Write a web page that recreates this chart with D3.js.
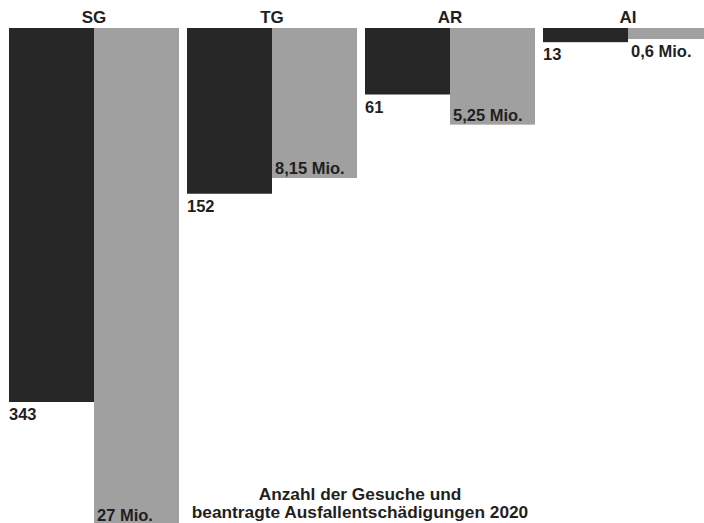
<!DOCTYPE html>
<html>
<head>
<meta charset="utf-8">
<script src="https://cdn.jsdelivr.net/npm/d3@7"></script>
<style>
  html, body { margin: 0; padding: 0; background: #fff; }
  svg { display: block; font-family: "Liberation Sans", Arial, sans-serif; }
</style>
</head>
<body>
<div id="chart"></div>
<script>
// Data
var cantons = ["SG", "TG", "AR", "AI"];
var gesuche = [343, 152, 61, 13];          // Anzahl der Gesuche
var millionen = [27, 8.15, 5.25, 0.6];     // beantragte Ausfallentschädigungen (Mio.)
var millionenLabels = ["27 Mio.", "8,15 Mio.", "5,25 Mio.", "0,6 Mio."];
var titleLines = ["Anzahl der Gesuche und", "beantragte Ausfallentschädigungen 2020"];

var width = 704, height = 523;
var barTop = 28;

var svg = d3.select("#chart").append("svg")
    .attr("width", width)
    .attr("height", height);

// group scale, then one band per series inside a group
var x = d3.scaleBand()
    .domain(cantons)
    .range([9, 9 + 178 * cantons.length - 8])
    .paddingInner(8 / 178)
    .paddingOuter(0);

var xInner = d3.scaleBand()
    .domain(["count", "amount"])
    .range([0, x.bandwidth()]);

// bars hang from the top line
var yCount = d3.scaleLinear().domain([0, 343]).range([0, 374]);
var yAmount = d3.scaleLinear().domain([0, 27]).range([0, 497]);

var dark = "#272727", grey = "#a0a0a0", ink = "#1f1f1f";

var rows = cantons.map(function (c, i) {
    return { canton: c, count: gesuche[i], amount: millionen[i], label: millionenLabels[i] };
});

var g = svg.selectAll("g.group")
    .data(rows)
    .enter()
    .append("g")
    .attr("class", "group")
    .attr("transform", function (d) { return "translate(" + x(d.canton) + ",0)"; });

// canton titles
g.append("text")
    .attr("x", x.bandwidth() / 2)
    .attr("y", 23)
    .attr("text-anchor", "middle")
    .style("font-size", "17px")
    .style("font-weight", "bold")
    .style("fill", ink)
    .text(function (d) { return d.canton; });

// dark bars: number of requests
g.append("rect")
    .attr("x", xInner("count"))
    .attr("y", barTop)
    .attr("width", xInner.bandwidth())
    .attr("height", function (d) { return yCount(d.count); })
    .style("fill", dark);

// grey bars: amount requested
g.append("rect")
    .attr("x", xInner("amount"))
    .attr("y", barTop)
    .attr("width", xInner.bandwidth())
    .attr("height", function (d) { return yAmount(d.amount); })
    .style("fill", grey);

// count labels under the dark bars
g.append("text")
    .attr("x", xInner("count"))
    .attr("y", function (d) { return barTop + yCount(d.count) + 18; })
    .style("font-size", "16.5px")
    .style("font-weight", "bold")
    .style("fill", ink)
    .text(function (d) { return d.count; });

// amount labels: inside the bar if it is tall enough, otherwise below
g.append("text")
    .attr("x", xInner("amount") + 3)
    .attr("y", function (d) {
        var h = yAmount(d.amount);
        return h > 30 ? barTop + h - 4 : barTop + h + 18;
    })
    .style("font-size", "16.5px")
    .style("font-weight", "bold")
    .style("fill", ink)
    .text(function (d) { return d.label; });

// caption
svg.append("text")
    .attr("x", 360)
    .attr("y", 500)
    .attr("text-anchor", "middle")
    .style("font-size", "17.3px")
    .style("font-weight", "bold")
    .style("fill", ink)
    .selectAll("tspan")
    .data(titleLines)
    .enter()
    .append("tspan")
    .attr("x", 360)
    .attr("dy", function (d, i) { return i === 0 ? 0 : 18; })
    .text(function (d) { return d; });
</script>
</body>
</html>
